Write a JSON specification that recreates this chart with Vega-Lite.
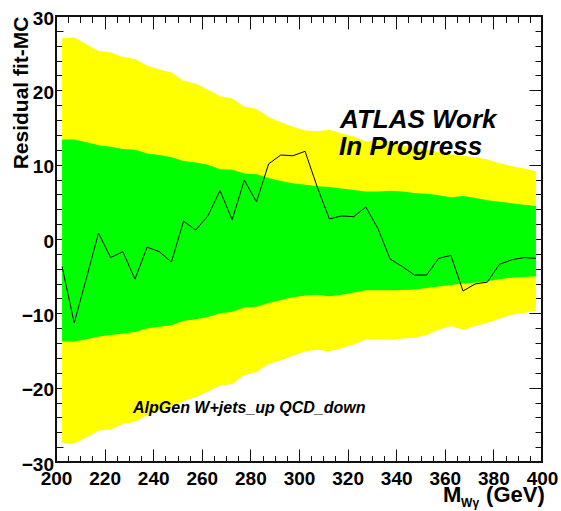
{
  "$schema": "https://vega.github.io/schema/vega-lite/v6.json",
  "width": 486,
  "height": 446,
  "autosize": {"type": "none"},
  "padding": {"left": 56, "top": 16, "right": 19, "bottom": 49},
  "background": "white",
  "config": {
    "view": {"stroke": "#111111", "strokeWidth": 2},
    "axis": {
      "domain": false,
      "grid": false,
      "zindex": 1,
      "tickColor": "#111111",
      "tickWidth": 1,
      "labelFont": "Liberation Sans",
      "labelFontWeight": "bold",
      "labelFontSize": 19,
      "labelColor": "black",
      "labelFlush": false,
      "labelOverlap": false,
      "labelBound": false,
      "titleFont": "Liberation Sans",
      "titleFontWeight": "bold",
      "titleColor": "black"
    },
    "text": {"font": "Liberation Sans"}
  },
  "datasets": {
    "bands": [
      {"m": 202.5, "yl": -27.4, "yh": 27.0, "gl": -13.8, "gh": 13.4, "r": -3.7},
      {"m": 207.5, "yl": -27.5, "yh": 27.1, "gl": -13.8, "gh": 13.4, "r": -11.3},
      {"m": 212.5, "yl": -26.7, "yh": 26.2, "gl": -13.5, "gh": 13.0, "r": -5.3},
      {"m": 217.5, "yl": -25.8, "yh": 25.3, "gl": -13.1, "gh": 12.6, "r": 0.8},
      {"m": 222.5, "yl": -25.6, "yh": 25.1, "gl": -12.9, "gh": 12.4, "r": -2.5},
      {"m": 227.5, "yl": -24.9, "yh": 24.5, "gl": -12.7, "gh": 12.1, "r": -1.7},
      {"m": 232.5, "yl": -24.6, "yh": 24.2, "gl": -12.5, "gh": 12.0, "r": -5.4},
      {"m": 237.5, "yl": -23.7, "yh": 23.3, "gl": -12.0, "gh": 11.5, "r": -1.1},
      {"m": 242.5, "yl": -23.0, "yh": 22.8, "gl": -11.8, "gh": 11.3, "r": -1.7},
      {"m": 247.5, "yl": -22.6, "yh": 22.4, "gl": -11.6, "gh": 11.0, "r": -3.1},
      {"m": 252.5, "yl": -21.8, "yh": 21.3, "gl": -11.0, "gh": 10.5, "r": 2.4},
      {"m": 257.5, "yl": -21.3, "yh": 20.9, "gl": -10.8, "gh": 10.3, "r": 1.2},
      {"m": 262.5, "yl": -20.5, "yh": 20.1, "gl": -10.5, "gh": 10.0, "r": 3.1},
      {"m": 267.5, "yl": -19.7, "yh": 19.2, "gl": -10.0, "gh": 9.4, "r": 6.5},
      {"m": 272.5, "yl": -19.5, "yh": 18.9, "gl": -9.8, "gh": 9.3, "r": 2.6},
      {"m": 277.5, "yl": -18.3, "yh": 17.8, "gl": -9.2, "gh": 8.8, "r": 7.9},
      {"m": 282.5, "yl": -17.9, "yh": 17.5, "gl": -9.1, "gh": 8.7, "r": 5.0},
      {"m": 287.5, "yl": -16.8, "yh": 16.4, "gl": -8.6, "gh": 8.2, "r": 10.1},
      {"m": 292.5, "yl": -16.3, "yh": 15.7, "gl": -8.2, "gh": 7.8, "r": 11.3},
      {"m": 297.5, "yl": -15.7, "yh": 15.1, "gl": -7.85, "gh": 7.5, "r": 11.2},
      {"m": 302.5, "yl": -15.1, "yh": 14.6, "gl": -7.6, "gh": 7.3, "r": 11.8},
      {"m": 307.5, "yl": -14.9, "yh": 14.5, "gl": -7.5, "gh": 7.1, "r": 7.0},
      {"m": 312.5, "yl": -15.1, "yh": 14.7, "gl": -7.7, "gh": 7.0, "r": 2.7},
      {"m": 317.5, "yl": -14.7, "yh": 14.2, "gl": -7.5, "gh": 6.8, "r": 3.1},
      {"m": 322.5, "yl": -14.2, "yh": 13.8, "gl": -7.2, "gh": 6.6, "r": 3.0},
      {"m": 327.5, "yl": -13.5, "yh": 13.1, "gl": -6.9, "gh": 6.4, "r": 4.3},
      {"m": 332.5, "yl": -13.5, "yh": 13.3, "gl": -6.9, "gh": 6.4, "r": 1.4},
      {"m": 337.5, "yl": -13.6, "yh": 13.0, "gl": -6.9, "gh": 6.5, "r": -2.7},
      {"m": 342.5, "yl": -13.4, "yh": 12.6, "gl": -6.85, "gh": 6.4, "r": -3.7},
      {"m": 347.5, "yl": -13.3, "yh": 12.3, "gl": -6.8, "gh": 6.2, "r": -4.85},
      {"m": 352.5, "yl": -12.9, "yh": 12.0, "gl": -6.6, "gh": 6.1, "r": -4.85},
      {"m": 357.5, "yl": -12.2, "yh": 11.7, "gl": -6.4, "gh": 5.9, "r": -2.6},
      {"m": 362.5, "yl": -11.7, "yh": 11.4, "gl": -6.2, "gh": 5.6, "r": -2.2},
      {"m": 367.5, "yl": -12.2, "yh": 11.2, "gl": -6.0, "gh": 5.8, "r": -7.0},
      {"m": 372.5, "yl": -11.7, "yh": 11.0, "gl": -5.9, "gh": 5.5, "r": -6.05},
      {"m": 377.5, "yl": -11.3, "yh": 10.7, "gl": -5.7, "gh": 5.2, "r": -5.8},
      {"m": 382.5, "yl": -10.7, "yh": 10.2, "gl": -5.4, "gh": 5.0, "r": -3.4},
      {"m": 387.5, "yl": -10.2, "yh": 9.8, "gl": -5.2, "gh": 4.8, "r": -2.8},
      {"m": 392.5, "yl": -9.96, "yh": 9.5, "gl": -5.1, "gh": 4.6, "r": -2.5},
      {"m": 397.5, "yl": -9.65, "yh": 9.1, "gl": -5.0, "gh": 4.45, "r": -2.6}
    ],
    "atlas": [
      {"x": 316.9, "y": 15.0, "t": "ATLAS Work"},
      {"x": 316.5, "y": 11.3, "t": "In Progress"}
    ],
    "note": [
      {"x": 231.7, "y": -23.4, "t": "AlpGen W+jets_up QCD_down"}
    ],
    "xtitle": [
      {"x": 359.3, "y": -35.4, "t": "M"},
      {"x": 377.0, "y": -35.4, "t": "(GeV)"}
    ],
    "xsub": [
      {"x": 366.7, "y": -36.05, "t": "Wγ"}
    ]
  },
  "layer": [
    {
      "data": {"name": "bands"},
      "mark": {"type": "area", "color": "#ffff00", "opacity": 1},
      "encoding": {
        "x": {
          "field": "m", "type": "quantitative",
          "scale": {"domain": [200, 400], "nice": false, "zero": false},
          "axis": {
            "orient": "bottom",
            "values": [200, 220, 240, 260, 280, 300, 320, 340, 360, 380, 400],
            "tickSize": -13,
            "labelPadding": 20.5,
            "title": null
          }
        },
        "y": {
          "field": "yl", "type": "quantitative",
          "scale": {"domain": [-30, 30], "nice": false, "zero": false},
          "axis": {
            "orient": "left",
            "values": [-30, -20, -10, 0, 10, 20, 30],
            "tickSize": -14,
            "labelPadding": 16.5,
            "labelOffset": 2,
            "title": "Residual fit-MC",
            "titleFontSize": 21,
            "titleAngle": 270,
            "titleAlign": "right",
            "titleBaseline": "alphabetic",
            "titleX": -29,
            "titleY": 0
          }
        },
        "y2": {"field": "yh"}
      }
    },
    {
      "data": {"name": "bands"},
      "mark": {"type": "area", "color": "#00ff00", "opacity": 1},
      "encoding": {
        "x": {
          "field": "m", "type": "quantitative",
          "scale": {"domain": [200, 400], "nice": false, "zero": false},
          "axis": {
            "orient": "bottom",
            "values": [205, 210, 215, 225, 230, 235, 245, 250, 255, 265, 270, 275, 285, 290, 295, 305, 310, 315, 325, 330, 335, 345, 350, 355, 365, 370, 375, 385, 390, 395],
            "tickSize": -6.5,
            "labels": false,
            "title": null
          }
        },
        "y": {
          "field": "gl", "type": "quantitative",
          "scale": {"domain": [-30, 30], "nice": false, "zero": false},
          "axis": {
            "orient": "left",
            "values": [-28, -26, -24, -22, -18, -16, -14, -12, -8, -6, -4, -2, 2, 4, 6, 8, 12, 14, 16, 18, 22, 24, 26, 28],
            "tickSize": -7,
            "labels": false,
            "title": null
          }
        },
        "y2": {"field": "gh"}
      }
    },
    {
      "data": {"name": "bands"},
      "mark": {"type": "line", "color": "black", "strokeWidth": 1},
      "encoding": {
        "x": {
          "field": "m", "type": "quantitative",
          "scale": {"domain": [200, 400], "nice": false, "zero": false},
          "axis": {
            "orient": "top",
            "values": [200, 220, 240, 260, 280, 300, 320, 340, 360, 380, 400],
            "tickSize": -13,
            "labels": false,
            "title": null
          }
        },
        "y": {
          "field": "r", "type": "quantitative",
          "scale": {"domain": [-30, 30], "nice": false, "zero": false},
          "axis": {
            "orient": "right",
            "values": [-30, -20, -10, 0, 10, 20, 30],
            "tickSize": -13,
            "labels": false,
            "title": null
          }
        }
      }
    },
    {
      "data": {"name": "atlas"},
      "mark": {"type": "text", "align": "left", "baseline": "alphabetic", "fontSize": 26, "fontWeight": "bold", "fontStyle": "italic", "color": "black"},
      "encoding": {
        "x": {
          "field": "x", "type": "quantitative",
          "scale": {"domain": [200, 400], "nice": false, "zero": false},
          "axis": {
            "orient": "top",
            "values": [205, 210, 215, 225, 230, 235, 245, 250, 255, 265, 270, 275, 285, 290, 295, 305, 310, 315, 325, 330, 335, 345, 350, 355, 365, 370, 375, 385, 390, 395],
            "tickSize": -6.5,
            "labels": false,
            "title": null
          }
        },
        "y": {
          "field": "y", "type": "quantitative",
          "scale": {"domain": [-30, 30], "nice": false, "zero": false},
          "axis": {
            "orient": "right",
            "values": [-28, -26, -24, -22, -18, -16, -14, -12, -8, -6, -4, -2, 2, 4, 6, 8, 12, 14, 16, 18, 22, 24, 26, 28],
            "tickSize": -7,
            "labels": false,
            "title": null
          }
        },
        "text": {"field": "t"}
      }
    },
    {
      "data": {"name": "note"},
      "mark": {"type": "text", "align": "left", "baseline": "alphabetic", "fontSize": 16, "fontWeight": "bold", "fontStyle": "italic", "color": "black"},
      "encoding": {
        "x": {"field": "x", "type": "quantitative", "scale": {"domain": [200, 400], "nice": false, "zero": false}, "axis": null},
        "y": {"field": "y", "type": "quantitative", "scale": {"domain": [-30, 30], "nice": false, "zero": false}, "axis": null},
        "text": {"field": "t"}
      }
    },
    {
      "data": {"name": "xtitle"},
      "mark": {"type": "text", "align": "left", "baseline": "alphabetic", "fontSize": 22, "fontWeight": "bold", "color": "black", "clip": false},
      "encoding": {
        "x": {"field": "x", "type": "quantitative", "scale": {"domain": [200, 400], "nice": false, "zero": false}, "axis": null},
        "y": {"field": "y", "type": "quantitative", "scale": {"domain": [-30, 30], "nice": false, "zero": false}, "axis": null},
        "text": {"field": "t"}
      }
    },
    {
      "data": {"name": "xsub"},
      "mark": {"type": "text", "align": "left", "baseline": "alphabetic", "fontSize": 12, "fontWeight": "bold", "color": "black", "clip": false},
      "encoding": {
        "x": {"field": "x", "type": "quantitative", "scale": {"domain": [200, 400], "nice": false, "zero": false}, "axis": null},
        "y": {"field": "y", "type": "quantitative", "scale": {"domain": [-30, 30], "nice": false, "zero": false}, "axis": null},
        "text": {"field": "t"}
      }
    }
  ],
  "resolve": {"axis": {"x": "independent", "y": "independent"}}
}
